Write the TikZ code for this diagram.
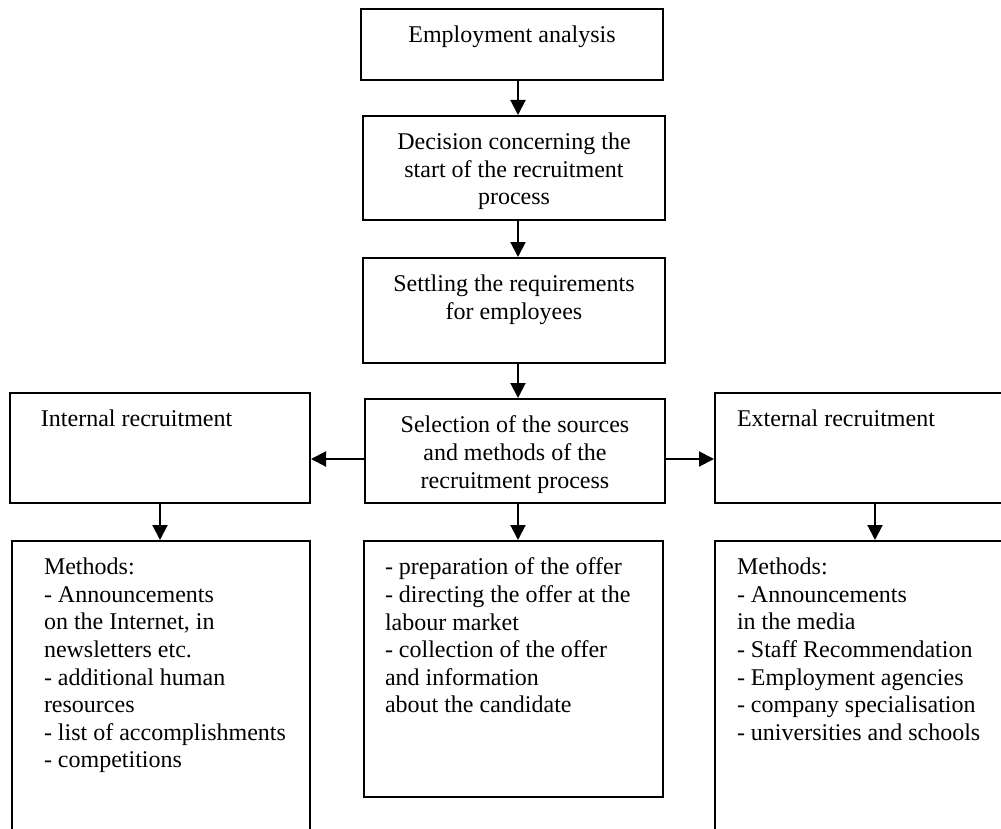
\documentclass[tikz,border=0pt]{standalone}
\usepackage{fontspec}
\setmainfont{Liberation Serif}
\usetikzlibrary{arrows.meta}

% text block pinned to the top of a box of given height
\newcommand{\toptext}[3]{\parbox[t][#2][t]{#1}{#3}}

\begin{document}
\begin{tikzpicture}[x=0.5pt,y=-0.5pt,
  stage/.style={draw,line width=1pt,anchor=north west,inner xsep=0pt,inner ysep=8.5pt,
    font=\fontsize{12}{13.8}\selectfont},
  flow/.style={line width=1pt,-{Triangle[width=7.5pt,length=7.5pt]}}]

\useasboundingbox (0,0) rectangle (1001,829);
\clip (0,0) rectangle (1001,829);

% middle column
\node[stage] (analysis) at (360,8) {\toptext{151pt}{18.5pt}{\centering Employment analysis}};
\node[stage] (decision) at (362,115) {\toptext{151pt}{35pt}{\centering Decision concerning the\\start of the recruitment\\process}};
\node[stage] (settling) at (362,257) {\toptext{151pt}{35.5pt}{\centering Settling the requirements\\for employees}};
\node[stage] (selection) at (364,398) {\toptext{150pt}{35pt}{\centering Selection of the sources\\and methods of the\\recruitment process}};
\node[stage] (offer) at (363,540) {\toptext{149.5pt}{111pt}{\raggedright\leftskip=10.5pt
  - preparation of the offer\\- directing the offer at the\\labour market\\- collection of the offer\\and information\\about the candidate}};

% sides
\node[stage] (internal) at (9,392) {\toptext{150pt}{38pt}{\raggedright\leftskip=15.5pt Internal recruitment}};
\node[stage] (external) at (714,392) {\toptext{160pt}{38pt}{\raggedright\leftskip=11pt External recruitment}};
\node[stage] (intmethods) at (11,540) {\toptext{149pt}{133pt}{\raggedright\leftskip=16pt
  Methods:\\- Announcements\\on the Internet, in\\newsletters etc.\\- additional human\\resources\\- list of accomplishments\\- competitions}};
\node[stage] (extmethods) at (714,540) {\toptext{160pt}{133pt}{\raggedright\leftskip=11pt
  Methods:\\- Announcements\\in the media\\- Staff Recommendation\\- Employment agencies\\- company specialisation\\- universities and schools}};

\coordinate (spine) at (518,0);
\coordinate (side) at (0,459);
\foreach \a/\b in {analysis/decision,decision/settling,settling/selection,selection/offer}
  \draw[flow] (spine |- \a.south) -- (spine |- \b.north);
\draw[flow] (selection.west |- side) -- (internal.east |- side);
\draw[flow] (selection.east |- side) -- (external.west |- side);
\draw[flow] (internal.south) -- (intmethods.north -| internal.south);
\draw[flow] (external.south) -- (extmethods.north -| external.south);
\end{tikzpicture}
\end{document}
